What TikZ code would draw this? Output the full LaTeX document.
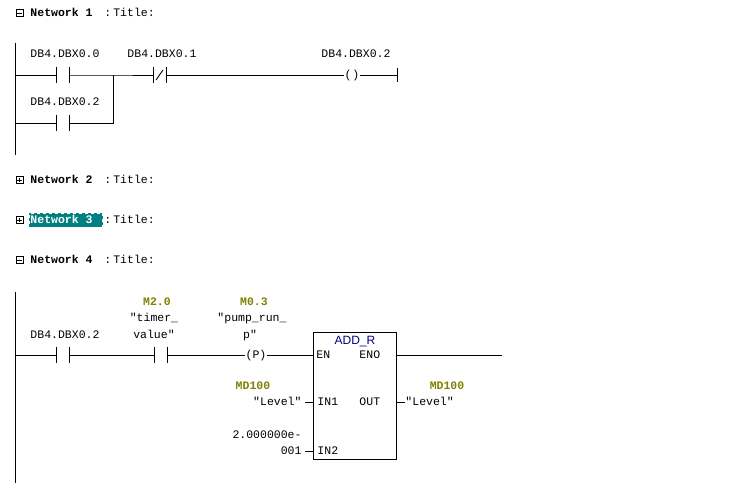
\documentclass[tikz,border=0pt]{standalone}
\usepackage{fontspec}
\setmainfont{Liberation Sans}
\setmonofont{Liberation Mono}
\usetikzlibrary{positioning}
\definecolor{symcol}{RGB}{128,128,0}
\definecolor{selcol}{RGB}{0,128,128}
\definecolor{boxcol}{RGB}{0,0,128}
\begin{document}
\begin{tikzpicture}[x=1pt,y=-1pt,line width=0.9pt,
	font=\ttfamily\fontsize{11.5}{12}\selectfont,
	lbl/.style={inner sep=0pt,text height=7.5pt,text depth=0pt},
	hdr/.style={lbl,anchor=west,font=\ttfamily\bfseries\fontsize{11.5}{12}\selectfont},
	sym/.style={lbl,text=symcol,font=\ttfamily\bfseries\fontsize{11.5}{12}\selectfont},
	icon/.style={draw,line width=0.6pt,minimum size=7pt,inner sep=0pt},
	contact/.style={minimum width=12pt,minimum height=15pt,inner sep=0pt,
		append after command={(\tikzlastnode.north west) edge (\tikzlastnode.south west)
			(\tikzlastnode.north east) edge (\tikzlastnode.south east)}},
	ncontact/.style={contact,
		append after command={([xshift=3pt,yshift=3pt]\tikzlastnode.south west) edge ([xshift=-3pt,yshift=-3pt]\tikzlastnode.north east)}},
	coil/.style={lbl,text height=9pt,text depth=3pt}]
	\useasboundingbox (0,0) rectangle (737,490);
	% headers
	\foreach \n/\y in {1/13,2/180,3/220,4/260}{
		\node (i\n) [icon] at (19.5,\y) {};
		\draw[line width=0.6pt] ([xshift=1.5pt]i\n.west) -- ([xshift=-1.5pt]i\n.east);
		}
	\foreach \n in {2,3}
		\draw[line width=0.6pt] ([yshift=-1.5pt]i\n.north) -- ([yshift=1.5pt]i\n.south);
	\node (h1) [hdr] at (30,13) {Network 1};
	\node (h2) [hdr] at (30,180) {Network 2};
	\node (h3) [hdr,fill=selcol,text=white,draw=white,dashed,inner xsep=1pt,text height=10pt,text depth=4pt] at (29,220) {Network 3\kern9pt};
	\node (h4) [hdr] at (30,260) {Network 4};
	\foreach \n/\y in {1/13,2/180,3/220,4/260}
		\node (t\n) [lbl,anchor=west] at (104,\y) {:\kern2pt Title:};

	% network 1
	\coordinate (r1t) at (15,43);
	\coordinate (r1b) at (15,155);
	\draw (r1t) -- (r1b);
	\node (c1) [contact] at (63,75) {};
	\node (c2) [contact] at (63,123) {};
	\node (c3) [ncontact] at (159.5,75) {};
	\node (q1) [coil] at (352,75) {(\kern1pt)};
	\coordinate (br) at (113,75);
	\coordinate (e1) at (397,75);
	\draw (r1t |- c1) -- (c1.west) (c1.east) -- (br) -- (c3.west);
	\draw (r1t |- c2) -- (c2.west) (c2.east) -| (br);
	\draw (c3.east) -- (q1.west) (q1.east) -- (e1);
	\draw ([yshift=7pt]e1) -- ([yshift=-7pt]e1);
	\node (l1) [lbl] at (65,54) {DB4.DBX0.0};
	\node (l2) [lbl] at (65,102) {DB4.DBX0.2};
	\node (l3) [lbl] at (162,54) {DB4.DBX0.1};
	\node (l4) [lbl] at (356,54) {DB4.DBX0.2};

	% network 4
	\coordinate (r4t) at (15,292);
	\coordinate (r4b) at (15,483);
	\draw (r4t) -- (r4b);
	\node (c4) [contact] at (63,355) {};
	\node (c5) [contact] at (160.5,355) {};
	\node (q2) [coil] at (256,355) {(P)};
	\node (add) [draw,minimum width=83pt,minimum height=127pt,inner sep=0pt] at (354.5,395.5) {};
	\node (addn) [lbl,font=\fontsize{12}{13}\selectfont,text height=8.5pt,text=boxcol] at (355,340) {ADD\_R};
	\coordinate (en) at (313,355);
	\coordinate (in1) at (313,402);
	\coordinate (in2) at (313,451);
	\coordinate (out) at (396,402);
	\coordinate (eno) at (396,355);
	\coordinate (e4) at (502,355);
	\draw (r4t |- c4) -- (c4.west) (c4.east) -- (c5.west) (c5.east) -- (q2.west) (q2.east) -- (en);
	\draw (eno) -- (e4);
	\draw (in1) -- ++(-8,0) (in2) -- ++(-8,0) (out) -- ++(9,0);
	\node (p1) [lbl,anchor=west] at (316,355) {EN};
	\node (p2) [lbl,anchor=west] at (359,355) {ENO};
	\node (p3) [lbl,anchor=west] at (317,402) {IN1};
	\node (p4) [lbl,anchor=west] at (317,451) {IN2};
	\node (p5) [lbl,anchor=west] at (359,402) {OUT};
	\node (l5) [lbl] at (65,335) {DB4.DBX0.2};
	\node (s1) [sym] at (157,302) {M2.0};
	\node (n1) [lbl] at (154,318) {"timer\_};
	\node (n2) [lbl] at (154,335) {value"};
	\node (s2) [sym] at (254,302) {M0.3};
	\node (n3) [lbl] at (252,318) {"pump\_run\_};
	\node (n4) [lbl] at (250,335) {p"};
	\node (s3) [sym] at (253,386) {MD100};
	\node (n5) [lbl,anchor=east] at (302,402) {"Level"};
	\node (n6) [lbl,anchor=east] at (302,435) {2.000000e-};
	\node (n7) [lbl,anchor=east] at (302,451) {001};
	\node (s4) [sym] at (447,386) {MD100};
	\node (n8) [lbl,anchor=west] at (405,402) {"Level"};
\end{tikzpicture}
\end{document}
